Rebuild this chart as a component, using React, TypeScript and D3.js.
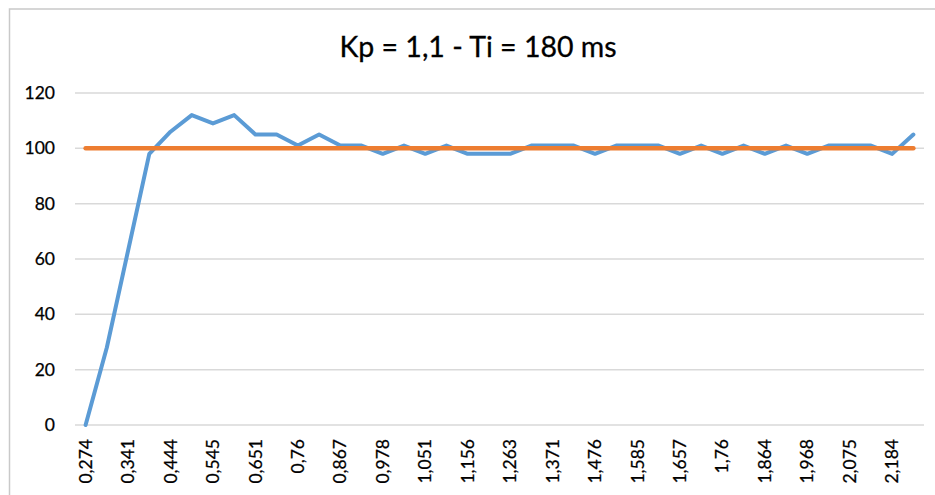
import React from 'react';
import * as d3 from 'd3';

// time stamps (s) of each sample; only every other one is printed on the axis
const times: string[] = [
  '0,274', '0,307', '0,341', '0,393', '0,444', '0,494', '0,545', '0,598', '0,651', '0,705',
  '0,76', '0,813', '0,867', '0,922', '0,978', '1,014', '1,051', '1,103', '1,156', '1,209',
  '1,263', '1,317', '1,371', '1,423', '1,476', '1,53', '1,585', '1,621', '1,657', '1,708',
  '1,76', '1,812', '1,864', '1,916', '1,968', '2,021', '2,075', '2,129', '2,184', '2,238'
];

const speed: number[] = [
  0, 28, 63, 98, 106, 112, 109, 112, 105, 105,
  101, 105, 101, 101, 98, 101, 98, 101, 98, 98,
  98, 101, 101, 101, 98, 101, 101, 101, 98, 101,
  98, 101, 98, 101, 98, 101, 101, 101, 98, 105
];

const setpoint: number[] = times.map(() => 100);

const yTicks: number[] = [0, 20, 40, 60, 80, 100, 120];

const title = 'Kp = 1,1 - Ti = 180 ms';

const W = 935;
const H = 495;
const FONT = 'Lato, "Open Sans", sans-serif';

export default function App() {
  const x = d3.scalePoint<string>().domain(times).range([75, 924]).padding(0.5);
  const y = d3.scaleLinear().domain([0, 120]).range([425, 93]);

  const line = d3.line<number>()
    .x((_, i) => x(times[i]) as number)
    .y(d => y(d));

  return (
    <svg
      width={W}
      height={H}
      style={{ position: 'absolute', left: 0, top: 0, background: '#fff' }}
      fontFamily={FONT}
    >
      <rect x={9.5} y={9} width={W + 20} height={H + 20} fill="#fff" stroke="#c9c9c9" strokeWidth={1.5} />

      <text x={478} y={57} textAnchor="middle" fontSize={28.5} fill="#000" stroke="#000" strokeWidth={0.3}>{title}</text>

      {/* grid */}
      <g>
        {yTicks.map(t => (
          <line key={t} x1={75} x2={924} y1={y(t)} y2={y(t)} stroke="#d9d9d9" strokeWidth={1.5} />
        ))}
      </g>

      {/* y labels */}
      <g>
        {yTicks.map(t => (
          <text key={t} x={55} y={y(t)} dy="0.35em" textAnchor="end" fontSize={17.5} fill="#000" stroke="#000" strokeWidth={0.25}>{t}</text>
        ))}
      </g>

      {/* x labels */}
      <g>
        {times.map((t, i) => i % 2 === 0 ? (
          <text
            key={t}
            transform={`translate(${x(t)},439) rotate(-90)`}
            dy="0.35em"
            textAnchor="end"
            fontSize={17.5}
            fill="#000"
            stroke="#000"
            strokeWidth={0.25}
          >{t}</text>
        ) : null)}
      </g>

      <path d={line(speed) || ''} fill="none" stroke="#5b9bd5" strokeWidth={4} strokeLinejoin="round" strokeLinecap="round" />
      <path d={line(setpoint) || ''} fill="none" stroke="#ed7d31" strokeWidth={4.5} strokeLinecap="round" />
    </svg>
  );
}
